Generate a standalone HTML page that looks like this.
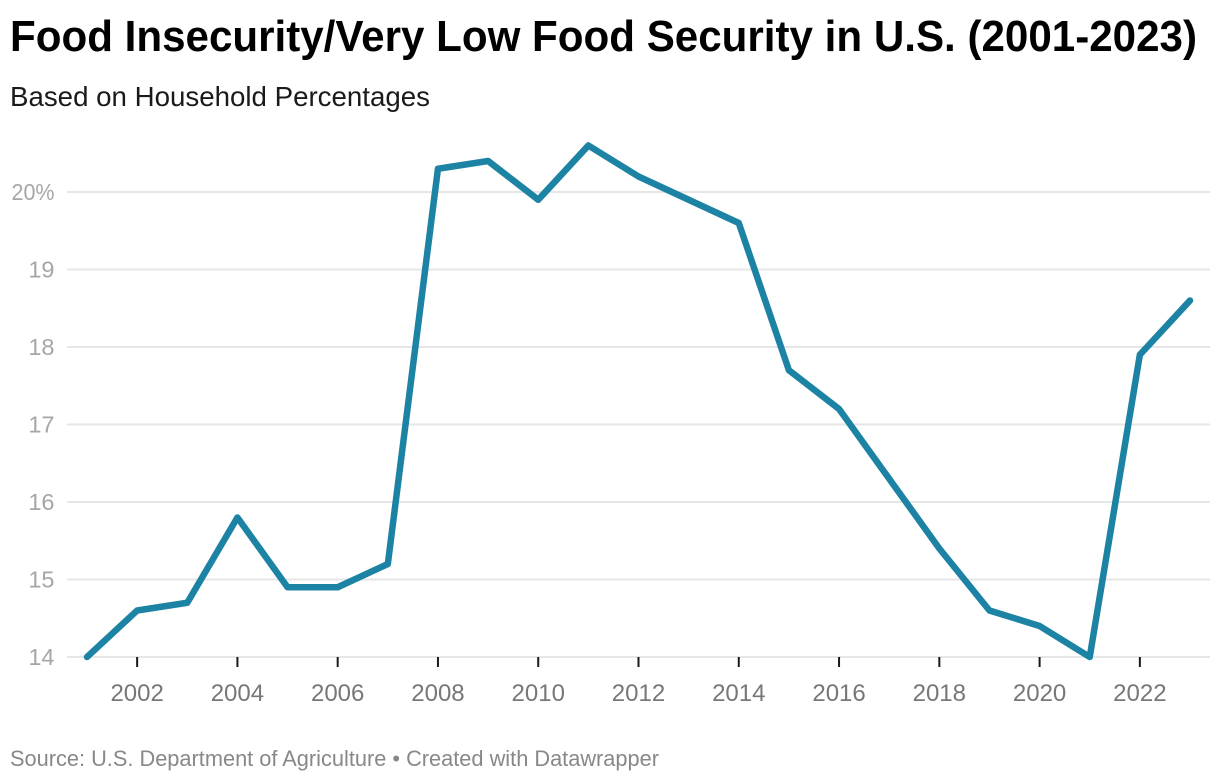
<!DOCTYPE html>
<html lang="en">
<head>
<meta charset="utf-8">
<title>Food Insecurity/Very Low Food Security in U.S. (2001-2023)</title>
<style>
html,body{margin:0;padding:0;background:#fff;width:1220px;height:784px;overflow:hidden}
svg{display:block;font-family:"Liberation Sans",Arial,sans-serif}
</style>
</head>
<body>
<svg id="chart" width="1220" height="784" viewBox="0 0 1220 784" xmlns="http://www.w3.org/2000/svg">
  <rect x="0" y="0" width="1220" height="784" fill="#ffffff"/>
  <text x="10" y="51" font-size="43.5" font-weight="700" fill="#000000" textLength="1187" lengthAdjust="spacingAndGlyphs">Food Insecurity/Very Low Food Security in U.S. (2001-2023)</text>
  <text x="10" y="106" font-size="27.5" fill="#1a1a1a" textLength="420" lengthAdjust="spacingAndGlyphs">Based on Household Percentages</text>
  <g id="grid"></g>
  <g id="yLabels"></g>
  <g id="xAxis"></g>
  <path id="line" fill="none" stroke="#1d83a4" stroke-width="6.5" stroke-linejoin="round" stroke-linecap="round"></path>
  <text x="10" y="766" font-size="22.5" fill="#888888" textLength="649" lengthAdjust="spacingAndGlyphs">Source: U.S. Department of Agriculture • Created with Datawrapper</text>
</svg>
<script>
var years = [2001,2002,2003,2004,2005,2006,2007,2008,2009,2010,2011,2012,2013,2014,2015,2016,2017,2018,2019,2020,2021,2022,2023];
var rates = [14,14.6,14.7,15.8,14.9,14.9,15.2,20.3,20.4,19.9,20.6,20.2,19.9,19.6,17.7,17.2,16.3,15.4,14.6,14.4,14,17.9,18.6];
var yTicks = [14,15,16,17,18,19,20];
var xTicks = [2002,2004,2006,2008,2010,2012,2014,2016,2018,2020,2022];

var NS = 'http://www.w3.org/2000/svg';
function xScale(v){ return 87 + (v - 2001) * (1190 - 87) / 22; }
function yScale(v){ return 657 - (v - 14) * (657 - 192) / 6; }
function make(tag, attrs, parent, text){
  var el = document.createElementNS(NS, tag);
  for (var k in attrs) el.setAttribute(k, attrs[k]);
  if (text !== undefined) el.textContent = text;
  parent.appendChild(el);
  return el;
}
var grid = document.getElementById('grid');
var yLabels = document.getElementById('yLabels');
var xAxis = document.getElementById('xAxis');

yTicks.forEach(function(t){
  var y = yScale(t);
  var g = make('line', {x1:67, x2:1210, y1:y, y2:y, stroke:'#e6e6e6', 'stroke-width':2}, grid);
  
  
  var attrs = {x:54.5, y:y + 8, 'font-size':23.5, fill:'#a6a6a6', 'text-anchor':'end'};
  if (t === 20) {
    attrs.textLength = 43;
    attrs.lengthAdjust = 'spacingAndGlyphs';
  }
  var l = make('text', attrs, yLabels, t === 20 ? '20%' : String(t));
  
  
});

xTicks.forEach(function(t){
  var x = xScale(t);
  var m = make('line', {x1:x, x2:x, y1:657, y2:667, stroke:'#1a1a1a', 'stroke-width':2}, xAxis);
  
  
  var l = make('text', {x:x, y:701, 'font-size':24, fill:'#777777', 'text-anchor':'middle'}, xAxis, String(t));
  
  
});

var d = years.map(function(yr, i){
  return (i ? 'L' : 'M') + xScale(yr).toFixed(2) + ' ' + yScale(rates[i]).toFixed(2);
}).join(' ');
document.getElementById('line').setAttribute('d', d);
</script>
</body>
</html>
